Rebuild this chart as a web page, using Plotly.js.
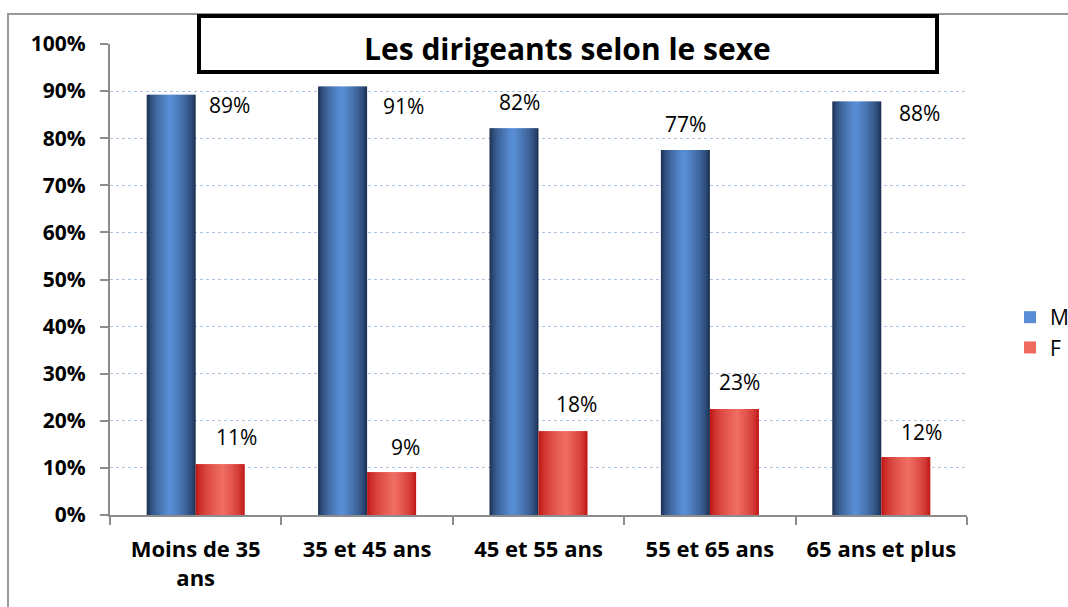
<!DOCTYPE html>
<html>
<head>
<meta charset="utf-8">
<script src="https://cdn.plot.ly/plotly-3.0.1.min.js"></script>
<style>html,body{margin:0;padding:0;background:#fff;}#chart{width:1068px;height:607px;}</style>
</head>
<body>
<div id="chart"></div>
<script>
// ---- data ----
var categories = ["Moins de 35<br>ans", "35 et 45 ans", "45 et 55 ans", "55 et 65 ans", "65 ans et plus"];
var valuesM = [0.892, 0.910, 0.821, 0.775, 0.878];
var valuesF = [0.108, 0.091, 0.178, 0.225, 0.123];
var labelsM = ["89%", "91%", "82%", "77%", "88%"];
var labelsF = ["11%", "9%", "18%", "23%", "12%"];
var yTickVals = [0, 0.1, 0.2, 0.3, 0.4, 0.5, 0.6, 0.7, 0.8, 0.9, 1.0];
var yTickText = ["0%", "10%", "20%", "30%", "40%", "50%", "60%", "70%", "80%", "90%", "100%"];
var chartTitle = "Les dirigeants selon le sexe";

// ---- label placement (pixels) ----
var shiftXM = [34, 36, -19, -24, 38];
var shiftYM = [-10, -20, 26, 26, -12];
var shiftXF = [41, 38, 38, 30, 40];
var shiftYF = [27, 25, 27, 27, 25];

var FONT = "'Open Sans', Lato, sans-serif";
var barW = 0.286;
var strips = 30;

function mix(a, b, t) {
  return 'rgb(' + [0,1,2].map(function(i){return Math.round(a[i] + (b[i]-a[i])*t);}).join(',') + ')';
}
function profile(t, peak) {
  var v = t < peak ? t/peak : (1-t)/(1-peak);
  return Math.pow(Math.max(0, v), 0.55);
}

var traces = [];
function addSeries(name, values, dark, light, peak, baseOffset) {
  var sw = barW / strips;
  for (var i = 0; i < strips; i++) {
    var t = (i + 0.5) / strips;
    traces.push({
      type: 'bar',
      x: categories,
      y: values,
      name: name,
      legendgroup: name,
      showlegend: i === Math.round(strips*peak),
      offset: baseOffset + i*sw,
      width: (i === strips-1) ? sw : sw*1.6,
      marker: {color: mix(dark, light, profile(t, peak)), line: {width: 0}},
      hoverinfo: 'skip'
    });
  }
}
addSeries('M', valuesM, [20,36,64], [90,144,216], 0.47, -barW);
addSeries('F', valuesF, [184,10,10], [240,110,100], 0.55, 0);

var annotations = [];
for (var k = 0; k < categories.length; k++) {
  annotations.push({x: categories[k], y: valuesM[k], xref: 'x', yref: 'y', text: labelsM[k], showarrow: false,
    xshift: shiftXM[k], yshift: shiftYM[k], font: {family: FONT, size: 21, color: '#000'}});
  annotations.push({x: categories[k], y: valuesF[k], xref: 'x', yref: 'y', text: labelsF[k], showarrow: false,
    xshift: shiftXF[k], yshift: shiftYF[k], font: {family: FONT, size: 21, color: '#000'}});
}

var W = 1068, H = 607, ml = 110, mr = 101, mt = 44, mb = 92;
var pw = W - ml - mr, ph = H - mt - mb;
function px(x) { return (x - ml) / pw; }
function py(y) { return (H - mb - y) / ph; }

annotations.push({xref: 'paper', yref: 'paper', x: px(567), y: py(48), text: '<b>' + chartTitle + '</b>',
  showarrow: false, font: {family: FONT, size: 30, color: '#000'}, xanchor: 'center', yanchor: 'middle'});

var shapes = [
  {type: 'rect', xref: 'paper', yref: 'paper', x0: px(8), x1: px(1075), y0: py(615), y1: py(14),
   line: {color: '#999', width: 2}, fillcolor: 'rgba(0,0,0,0)', layer: 'below'},
  {type: 'rect', xref: 'paper', yref: 'paper', x0: px(199), x1: px(937), y0: py(72), y1: py(16),
   line: {color: '#000', width: 4}, fillcolor: '#fff', layer: 'above'}
];

var layout = {
  width: W, height: H,
  margin: {l: ml, r: mr, t: mt, b: mb, pad: 0, autoexpand: false},
  paper_bgcolor: '#fff', plot_bgcolor: '#fff',
  barmode: 'overlay',
  showlegend: true,
  legend: {x: px(1010), y: py(297), xanchor: 'left', yanchor: 'top', font: {family: FONT, size: 21, color: '#000'},
    bgcolor: 'rgba(0,0,0,0)', itemwidth: 30, tracegroupgap: 2, traceorder: 'normal'},
  xaxis: {type: 'category', showline: true, linecolor: '#8c8c8c', linewidth: 2, ticks: 'outside', tickson: 'boundaries',
    ticklen: 8, tickcolor: '#8c8c8c', tickwidth: 2, showgrid: false, zeroline: false, ticklabelstandoff: 14,
    tickfont: {family: FONT, size: 22, color: '#000', weight: 'bold'}, range: [-0.5, 4.5]},
  yaxis: {range: [0, 1], tickvals: yTickVals, ticktext: yTickText, showline: true, linecolor: '#8c8c8c', linewidth: 2,
    ticks: 'outside', ticklen: 8, tickcolor: '#8c8c8c', tickwidth: 2, showgrid: true, gridcolor: '#a9c1e3',
    griddash: 'dot', gridwidth: 1, zeroline: false, ticklabelstandoff: 10,
    tickfont: {family: FONT, size: 21, color: '#000', weight: 'bold'}},
  annotations: annotations,
  shapes: shapes
};

Plotly.newPlot('chart', traces, layout, {staticPlot: true, displayModeBar: false});
</script>
</body>
</html>
